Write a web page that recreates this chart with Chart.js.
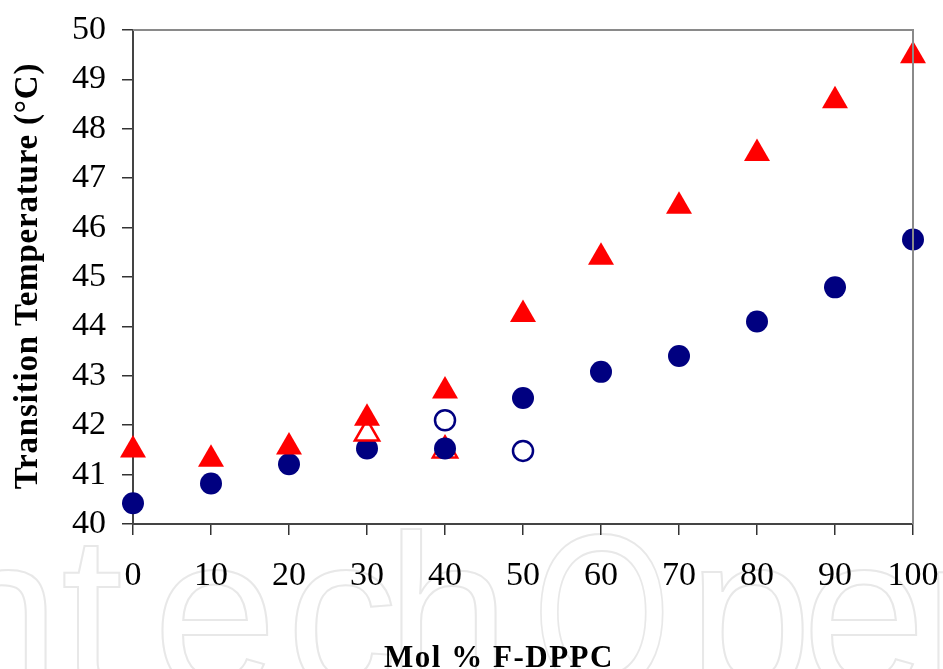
<!DOCTYPE html>
<html>
<head>
<meta charset="utf-8">
<script src="https://cdn.jsdelivr.net/npm/chart.js@4/dist/chart.umd.min.js"></script>
<style>
  html, body { margin: 0; padding: 0; background: #fff; }
  canvas { display: block; }
</style>
</head>
<body>
<canvas id="chart" width="943" height="669"></canvas>
<script>
// mol % F-DPPC on the x axis
const molPercent = [0, 10, 20, 30, 40, 50, 60, 70, 80, 90, 100];
// main transition temperatures (filled markers)
const upperTransition = [41.5, 41.31, 41.56, 42.14, 42.69, 44.24, 45.4, 46.43, 47.5, 48.57, 49.48];
const lowerTransition = [40.42, 40.82, 41.21, 41.53, 41.53, 42.55, 43.08, 43.4, 44.1, 44.79, 45.76];
// secondary transitions (open markers)
const openTriangleX = [30, 40];
const openTriangleY = [41.83, 41.49];
const openCircleX = [40, 50];
const openCircleY = [42.1, 41.48];

const yTicks = [40, 41, 42, 43, 44, 45, 46, 47, 48, 49, 50];

const pairs = (xs, ys) => xs.map((x, i) => ({ x, y: ys[i] }));
const openTriangles = pairs(openTriangleX, openTriangleY);

const serif = "'Liberation Serif', 'Times New Roman', serif";
const tickFont = { family: serif, size: 34 };

// outlined publisher mark, one glyph at a time
const markGlyphs = [["I", -95], ["n", -2], ["t", 92], ["e", 215], ["c", 342], ["h", 448], ["O", 602], ["p", 750], ["e", 864], ["n", 985]];

const backdrop = {
  id: "backdrop",
  beforeDraw(chart) {
    const { ctx, width, height } = chart;
    ctx.save();
    ctx.fillStyle = "#fff";
    ctx.fillRect(0, 0, width, height);
    ctx.font = "223px 'Liberation Sans', Arial, sans-serif";
    ctx.textBaseline = "alphabetic";
    ctx.textAlign = "center";
    ctx.strokeStyle = "#e8e8e8";
    ctx.lineWidth = 2;
    markGlyphs.forEach(([g, cx]) => {
      ctx.save();
      ctx.translate(cx, 690);
      if (g === "O") ctx.scale(0.8, 1);
      ctx.strokeText(g, 0, 0);
      ctx.restore();
    });
    ctx.restore();
  },
};

const frame = {
  id: "frame",
  afterDraw(chart) {
    const { ctx, chartArea: a } = chart;
    ctx.save();
    ctx.strokeStyle = "#8a8a8a";
    ctx.lineWidth = 2;
    ctx.beginPath();
    ctx.moveTo(a.left, a.top);
    ctx.lineTo(a.right, a.top);
    ctx.lineTo(a.right, a.bottom);
    ctx.stroke();

    ctx.fillStyle = "#000";
    ctx.font = "bold 31px " + serif;
    ctx.letterSpacing = "1.5px";
    ctx.textAlign = "center";
    ctx.textBaseline = "alphabetic";
    ctx.fillText("Mol % F-DPPC", 499, 667);

    ctx.font = "bold 33px " + serif;
    ctx.letterSpacing = "0.8px";
    ctx.translate(37, 276);
    ctx.rotate(-Math.PI / 2);
    ctx.fillText("Transition Temperature (\u00B0C)", 0, 0);
    ctx.restore();
  },
};

const openTriangleStyle = {
  pointStyle: "triangle",
  pointRadius: 14,
  pointBackgroundColor: "#fff",
  pointBorderColor: "#ff0000",
  pointBorderWidth: 2.5,
  clip: false,
};

// Chart.js paints the first dataset last, so the list runs top layer first
new Chart(document.getElementById("chart"), {
  type: "scatter",
  data: {
    datasets: [
      {
        label: "open circles",
        data: pairs(openCircleX, openCircleY),
        pointStyle: "circle",
        pointRadius: 10,
        pointBackgroundColor: "#fff",
        pointBorderColor: "#000080",
        pointBorderWidth: 2.5,
        clip: false,
      },
      {
        label: "upper",
        data: pairs(molPercent, upperTransition),
        pointStyle: "triangle",
        pointRadius: 15,
        pointBackgroundColor: "#ff0000",
        pointBorderColor: "#ff0000",
        pointBorderWidth: 0,
        clip: false,
      },
      // the 30 % open triangle sits over its circle, the 40 % one under it
      { label: "open triangle 30", data: openTriangles.slice(0, 1), ...openTriangleStyle },
      {
        label: "lower",
        data: pairs(molPercent, lowerTransition),
        pointStyle: "circle",
        pointRadius: 11,
        pointBackgroundColor: "#000080",
        pointBorderColor: "#000080",
        pointBorderWidth: 0,
        clip: false,
      },
      { label: "open triangle 40", data: openTriangles.slice(1), ...openTriangleStyle },
    ],
  },
  options: {
    responsive: false,
    animation: false,
    events: [],
    layout: { autoPadding: false, padding: { left: 0, right: 30, top: 30, bottom: 0 } },
    plugins: { legend: { display: false }, tooltip: { enabled: false } },
    scales: {
      x: {
        type: "linear",
        min: 0,
        max: 100,
        afterBuildTicks(scale) {
          scale.ticks = molPercent.map((v) => ({ value: v }));
        },
        ticks: { font: tickFont, color: "#000", padding: 21, maxRotation: 0 },
        grid: { drawOnChartArea: false, tickLength: 11, color: "#333", lineWidth: 1.5 },
        border: { color: "#444", width: 2 },
        afterFit(scale) {
          scale.height = 145;
          scale.paddingLeft = 0;
          scale.paddingRight = 0;
        },
      },
      y: {
        min: 40,
        max: 50,
        afterBuildTicks(scale) {
          scale.ticks = yTicks.map((v) => ({ value: v }));
        },
        ticks: { font: tickFont, color: "#000", padding: 16 },
        grid: { drawOnChartArea: false, tickLength: 11, color: "#333", lineWidth: 1.5 },
        border: { color: "#444", width: 2 },
        afterFit(scale) {
          scale.width = 133;
          scale.paddingTop = 0;
          scale.paddingBottom = 0;
        },
      },
    },
  },
  plugins: [backdrop, frame],
});
</script>
</body>
</html>
